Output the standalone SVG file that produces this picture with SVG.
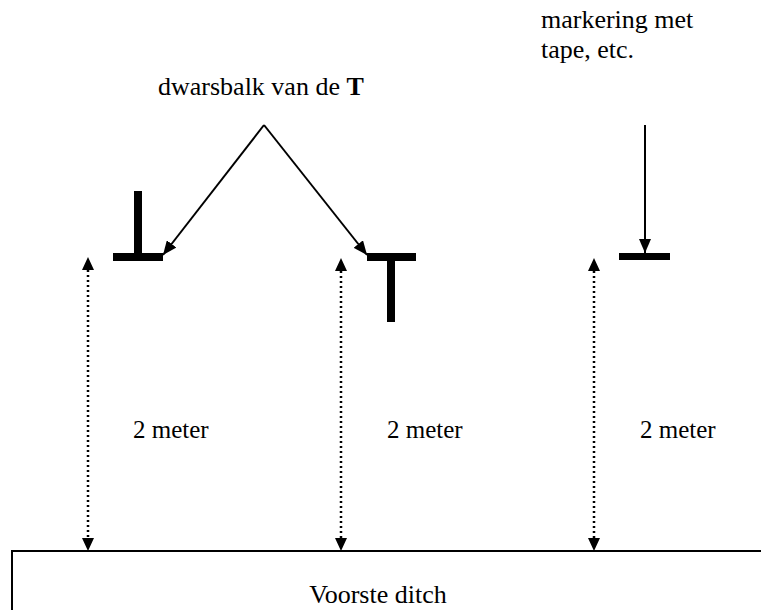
<svg xmlns="http://www.w3.org/2000/svg" width="761" height="610" viewBox="0 0 761 610">
<style>
text{font-family:"Liberation Serif","Times New Roman",serif;font-size:26px;fill:#000}
.dim{font-size:25px}
.bar{fill:#000}
.solid{stroke:#000;stroke-width:2;fill:none}
.dot{stroke:#000;stroke-width:2.5;fill:none;stroke-dasharray:2 3}
</style>
<defs>
<marker id="ah" markerWidth="14" markerHeight="12" refX="14" refY="6" orient="auto" markerUnits="userSpaceOnUse">
<path d="M0,0 L14,6 L0,12 z" fill="#000"/>
</marker>
</defs>
<rect width="761" height="610" fill="#fff"/>
<g id="labels">
<text x="541" y="28">markering met</text>
<text x="541" y="58">tape, etc.</text>
<text x="158" y="95">dwarsbalk van de <tspan font-weight="bold">T</tspan></text>
</g>
<g id="marker-left">
<rect class="bar" x="113" y="253" width="50" height="8"/>
<rect class="bar" x="134" y="191" width="8" height="64"/>
</g>
<g id="marker-middle">
<rect class="bar" x="367" y="253" width="49" height="8"/>
<rect class="bar" x="387" y="255" width="8" height="67"/>
</g>
<g id="marker-right">
<rect class="bar" x="619" y="253" width="51" height="7"/>
</g>
<g id="ditch">
<path class="solid" d="M761,551 H12 V610"/>
<text x="378" y="603" text-anchor="middle">Voorste ditch</text>
</g>
<g id="connectors">
<path class="solid" d="M264,125 L163,255" marker-end="url(#ah)"/>
<path class="solid" d="M264,125 L367,255" marker-end="url(#ah)"/>
<path class="solid" d="M645,125 L645,253" marker-end="url(#ah)"/>
<path class="dot" d="M88,270 V538"/>
<path d="M88,257 L82,270 L94,270 z M88,551 L82,538 L94,538 z" fill="#000"/>
<path class="dot" d="M341,271 V538"/>
<path d="M341,258 L335,271 L347,271 z M341,551 L335,538 L347,538 z" fill="#000"/>
<path class="dot" d="M594,271 V538"/>
<path d="M594,258 L588,271 L600,271 z M594,551 L588,538 L600,538 z" fill="#000"/>
</g>
<g id="dim-labels">
<text class="dim" x="133" y="438">2 meter</text>
<text class="dim" x="387" y="438">2 meter</text>
<text class="dim" x="640" y="438">2 meter</text>
</g>
</svg>
